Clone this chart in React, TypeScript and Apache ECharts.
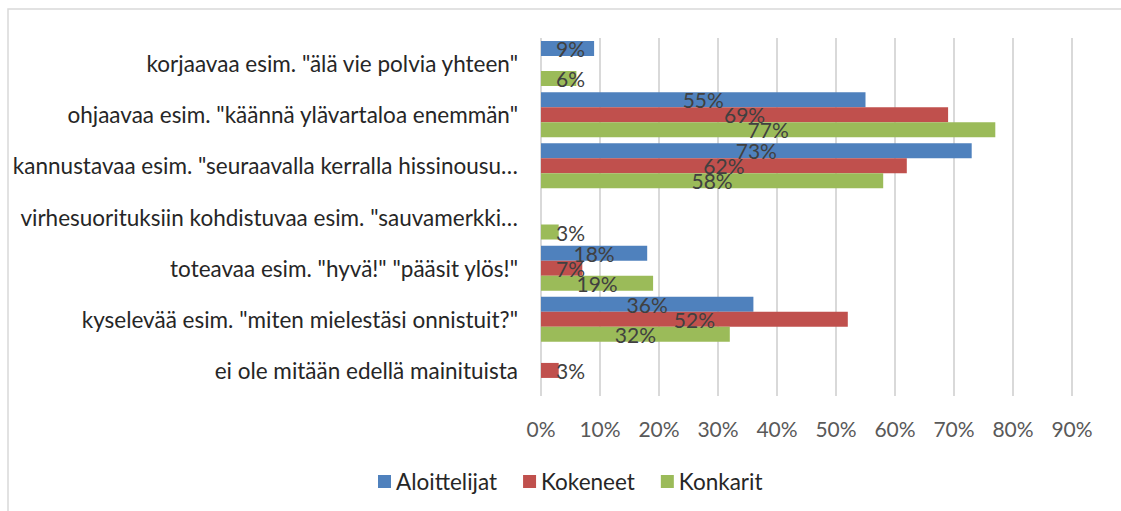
import React, { useEffect, useRef } from "react";
import * as echarts from "echarts";

const categories = [
  'korjaavaa esim. "älä vie polvia yhteen"',
  'ohjaavaa esim. "käännä ylävartaloa enemmän"',
  'kannustavaa esim. "seuraavalla kerralla hissinousu…',
  'virhesuorituksiin kohdistuvaa esim. "sauvamerkki…',
  'toteavaa esim. "hyvä!" "pääsit ylös!"',
  'kyselevää esim. "miten mielestäsi onnistuit?"',
  "ei ole mitään edellä mainituista",
];
const seriesNames = ["Aloittelijat", "Kokeneet", "Konkarit"];
const aloittelijat = [9, 55, 73, null, 18, 36, null];
const kokeneet = [null, 69, 62, null, 7, 52, 3];
const konkarit = [6, 77, 58, 3, 19, 32, null];
const colors = ["#4F81BD", "#C0504D", "#9BBB59"];
const xTicks = { min: 0, max: 90, interval: 10 };

const FONT = "Lato";

function toData(values: (number | null)[]) {
  return values.map((v) =>
    v === null
      ? { value: null }
      : v < 10
      ? { value: v, label: { position: "insideLeft", distance: 15 } }
      : { value: v }
  );
}

export default function App() {
  const ref = useRef<HTMLDivElement>(null);
  useEffect(() => {
    const chart = echarts.init(ref.current!, null, { renderer: "svg" });
    const all = [aloittelijat, kokeneet, konkarit];
    chart.setOption({
      animation: false,
      textStyle: { fontFamily: FONT },
      graphic: [
        {
          type: "rect",
          shape: { x: 8, y: 9, width: 1300, height: 700 },
          style: { fill: "none", stroke: "#d9d9d9", lineWidth: 1.5 },
          silent: true,
        },
      ],
      grid: { left: 541, right: 49, top: 38, bottom: 115, containLabel: false },
      legend: {
        data: seriesNames,
        left: 373,
        top: 465,
        itemWidth: 13,
        itemHeight: 13,
        itemGap: 26,
        icon: "rect",
        textStyle: { fontFamily: FONT, fontSize: 22.5, color: "#262626" },
      },
      xAxis: {
        type: "value",
        min: xTicks.min,
        max: xTicks.max,
        interval: xTicks.interval,
        axisLine: { show: false },
        axisTick: { show: false },
        splitLine: { show: true, lineStyle: { color: "#d9d9d9", width: 2 } },
        axisLabel: {
          formatter: "{value}%",
          fontFamily: FONT,
          fontSize: 21,
          color: "#595959",
          margin: 22,
        },
      },
      yAxis: {
        type: "category",
        data: categories,
        inverse: true,
        axisLine: { show: false },
        axisTick: { show: false },
        axisLabel: {
          fontFamily: FONT,
          fontSize: 22.5,
          color: "#262626",
          margin: 23,
        },
      },
      series: all.map((vals, i) => ({
        name: seriesNames[i],
        type: "bar",
        data: toData(vals),
        barGap: "0%",
        barCategoryGap: "12%",
        itemStyle: { color: colors[i] },
        label: {
          show: true,
          position: "inside",
          formatter: "{c}%",
          fontFamily: FONT,
          fontSize: 21,
          color: "#404040",
        },
      })),
    });
    return () => chart.dispose();
  }, []);
  return (
    <div
      ref={ref}
      style={{ position: "absolute", left: 0, top: 0, width: 1121, height: 511 }}
    />
  );
}
